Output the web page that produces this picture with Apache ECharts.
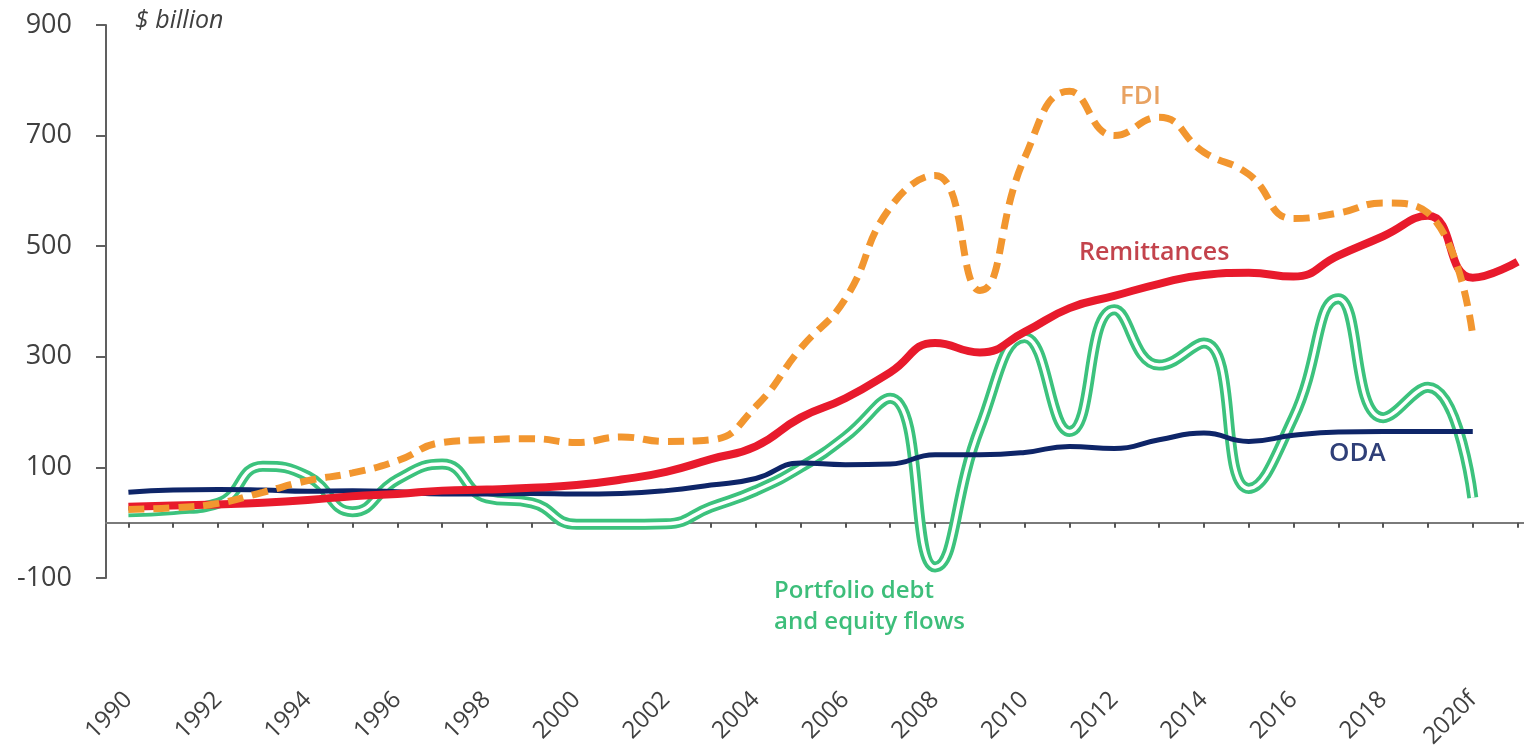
<!DOCTYPE html>
<html>
<head>
<meta charset="utf-8">
<script src="https://cdn.jsdelivr.net/npm/echarts@6/dist/echarts.min.js"></script>
<style>
html,body{margin:0;padding:0;background:#fff;}
#chart{width:1524px;height:749px;}
</style>
</head>
<body>
<div id="chart"></div>
<script>
// Categories (years)
const years = ['1990','1991','1992','1993','1994','1995','1996','1997','1998','1999','2000','2001','2002','2003','2004','2005','2006','2007','2008','2009','2010','2011','2012','2013','2014','2015','2016','2017','2018','2019','2020f','2021f'];

// $ billion
const fdi         = [24, 27, 35, 55, 76, 90, 112, 145, 150, 152, 145, 155, 147, 150, 210, 315, 405, 570, 628, 420, 660, 780, 700, 733, 670, 630, 550, 560, 578, 560, 338, null];
const remittances = [29, 31, 33, 36, 41, 48, 52, 58, 60, 63, 68, 78, 92, 115, 138, 190, 225, 272, 325, 308, 345, 388, 410, 432, 448, 452, 445, 483, 518, 555, 443, 472];
const oda         = [55, 59, 60, 59, 57, 58, 56, 52, 52, 53, 52, 53, 58, 68, 80, 108, 105, 106, 123, 123, 127, 138, 134, 150, 162, 147, 158, 164, 165, 165, 165, null];
const portfolio   = [20, 24, 35, 102, 84, 20, 78, 106, 45, 36, -3, -3, -2, 28, 58, 100, 155, 225, -80, 172, 335, 165, 385, 285, 325, 62, 190, 405, 190, 245, 45, null];

const yTicks = [-100, 100, 300, 500, 700, 900];

const chart = echarts.init(document.getElementById('chart'));
const txt = '#404040';
const font = 'Open Sans';

chart.setOption({
  animation: false,
  backgroundColor: '#ffffff',
  textStyle: { fontFamily: font },
  grid: { left: 106, top: 25, bottom: 171, width: 1434, containLabel: false, outerBoundsMode: 'none' },
  xAxis: {
    type: 'category',
    data: years,
    boundaryGap: true,
    axisLine: { onZero: true, lineStyle: { color: '#7a7a7a', width: 2 } },
    axisTick: { show: true, alignWithLabel: true, interval: 0, length: 5, lineStyle: { color: '#555', width: 2 } },
    axisLabel: { interval: 1, rotate: 45, margin: 118, fontSize: 24, color: txt, fontFamily: font }
  },
  yAxis: {
    type: 'value',
    min: yTicks[0],
    max: yTicks[yTicks.length - 1],
    interval: yTicks[1] - yTicks[0],
    splitLine: { show: false },
    axisLine: { show: true, lineStyle: { color: '#606060', width: 2 } },
    axisTick: { show: true, length: 10, lineStyle: { color: '#606060', width: 2 } },
    axisLabel: { fontSize: 27, color: txt, margin: 34, fontFamily: font }
  },
  series: [
    { name: 'Portfolio outline', type: 'line', data: portfolio, smooth: 0.5, symbol: 'none', z: 2,
      lineStyle: { color: '#3cc27d', width: 11 } },
    { name: 'Portfolio debt and equity flows', type: 'line', data: portfolio, smooth: 0.5, symbol: 'none', z: 3,
      lineStyle: { color: '#ffffff', width: 3.5 } },
    { name: 'ODA', type: 'line', data: oda, smooth: 0.5, symbol: 'none', z: 4,
      lineStyle: { color: '#0e2568', width: 5 } },
    { name: 'Remittances', type: 'line', data: remittances, smooth: 0.5, symbol: 'none', z: 5,
      lineStyle: { color: '#e81a2c', width: 8 } },
    { name: 'FDI', type: 'line', data: fdi, smooth: 0.5, symbol: 'none', z: 6,
      lineStyle: { color: '#f2962f', width: 7, type: [16, 9] } }
  ],
  graphic: [
    { type: 'text', left: 135, top: 8, style: { text: '$ billion', fontFamily: font, fontStyle: 'italic', fontSize: 25, fill: txt } },
    { type: 'text', left: 1120, top: 84, style: { text: 'FDI', fontFamily: font, fontWeight: 600, fontSize: 26, fill: '#e8a262' } },
    { type: 'text', left: 1079, top: 240, style: { text: 'Remittances', fontFamily: font, fontWeight: 600, fontSize: 25, fill: '#c3434c' } },
    { type: 'text', left: 1329, top: 441, style: { text: 'ODA', fontFamily: font, fontWeight: 600, fontSize: 26, fill: '#2f3f78' } },
    { type: 'text', left: 774, top: 576, style: { text: 'Portfolio debt\nand equity flows', fontFamily: font, fontWeight: 600, fontSize: 24, lineHeight: 31, fill: '#3dbe7a' } }
  ]
});
</script>
</body>
</html>
